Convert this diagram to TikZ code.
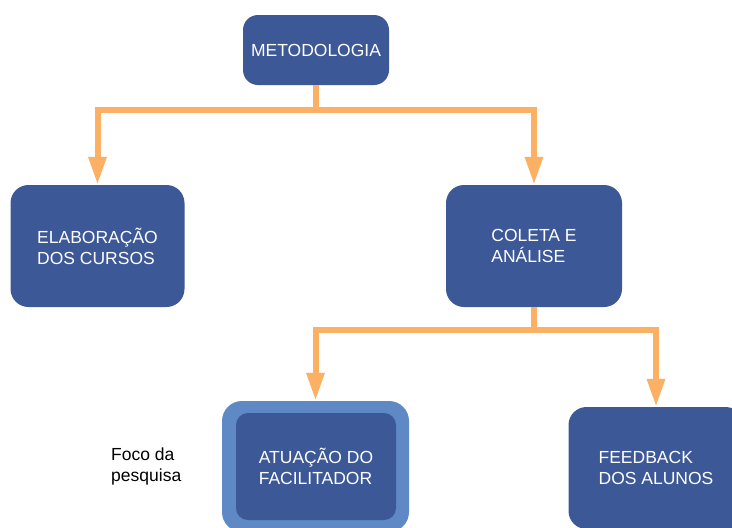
\documentclass[tikz,border=0pt]{standalone}
\usepackage{fontspec}
\setmainfont{Liberation Sans}
\usetikzlibrary{arrows.meta}
\definecolor{boxblue}{RGB}{60,88,150}
\definecolor{rimblue}{RGB}{94,137,196}
\definecolor{linkorange}{RGB}{252,176,100}

\begin{document}
\begin{tikzpicture}
  [x=1pt, y=-1pt,
   every node/.style={font=\fontsize{17.5}{21}\selectfont, inner sep=0pt},
   topic/.style={fill=boxblue, text=white, rounded corners=18pt, align=left,
                 minimum width=175pt, minimum height=122pt},
   link/.style={draw=linkorange, line width=6pt},
   linkarrow/.style={link, -{Triangle[length=28pt,width=17pt]}}]
  \useasboundingbox (0,0) rectangle (732,528);
  % boxes
  \node [topic, minimum width=146pt, minimum height=70pt, rounded corners=15pt]
        (metodologia) at (316,50) {METODOLOGIA};
  \node [topic, minimum width=174pt] (elaboracao) at (97.5,246) {ELABORAÇÃO\\DOS CURSOS};
  \node [topic, minimum width=176pt] (coleta) at (534,246) {COLETA E\\ANÁLISE};
  \node [fill=rimblue, rounded corners=20pt, minimum width=187pt, minimum height=131pt]
        (foco) at (315.5,466.5) {};
  \node [topic, minimum width=160pt, minimum height=107pt, rounded corners=12pt]
        (atuacao) at (316,466.5) {ATUAÇÃO DO\\FACILITADOR};
  \node [topic] (feedback) at (656,468) {FEEDBACK\\DOS ALUNOS};
  \node [anchor=west, align=left] (focolabel) at (111,466) {Foco da\\pesquisa};
  % connectors
  \coordinate (split1) at (316,110);
  \coordinate (split2) at (534,330);
  \draw [linkarrow] (metodologia.south) -- (split1) -| (elaboracao.north);
  \draw [linkarrow] (split1) -| (coleta.north);
  \draw [linkarrow] (coleta.south) -- (split2) -| (foco.north);
  \draw [linkarrow] (split2) -| (feedback.north);
\end{tikzpicture}
\end{document}
